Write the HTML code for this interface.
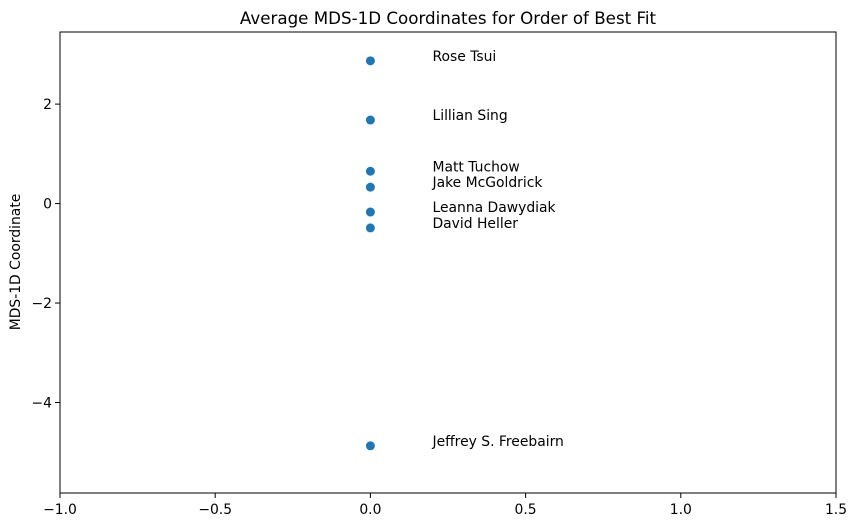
<!DOCTYPE html>
<html><head><meta charset="utf-8"><style>
body{margin:0;background:#fff;}
svg{display:block;font-family:"DejaVu Sans","Liberation Sans",sans-serif;}
</style></head><body>
<svg id="chart" width="855" height="528" viewBox="0 0 855 528">
<rect width="855" height="528" fill="#fff"/>
<text x="448" y="24" font-size="16.7" text-anchor="middle">Average MDS-1D Coordinates for Order of Best Fit</text>
<g id="axes"></g>
<g id="marks"></g>
<rect x="60" y="32" width="776" height="461" fill="none" stroke="#000" stroke-width="1"/>
<text transform="translate(20,262) rotate(-90)" font-size="13.9" text-anchor="middle">MDS-1D Coordinate</text>
</svg>
<script>
const names = ["Rose Tsui","Lillian Sing","Matt Tuchow","Jake McGoldrick","Leanna Dawydiak","David Heller","Jeffrey S. Freebairn"];
const xValues = [0,0,0,0,0,0,0];
const yValues = [2.87,1.68,0.65,0.33,-0.17,-0.49,-4.87];
const xTicks = [-1.0,-0.5,0.0,0.5,1.0,1.5];
const xTickLabels = ["\u22121.0","\u22120.5","0.0","0.5","1.0","1.5"];
const yTicks = [-4,-2,0,2];
const yTickLabels = ["\u22124","\u22122","0","2"];
const L=60,R=836,T=32,B=493,xMin=-1,xMax=1.5,yMin=-5.82,yMax=3.45;
const sx=v=>L+(v-xMin)/(xMax-xMin)*(R-L);
const sy=v=>B-(v-yMin)/(yMax-yMin)*(B-T);
const NS="http://www.w3.org/2000/svg";
const axes=document.getElementById('axes'),marks=document.getElementById('marks');
function mk(tag,attrs,parent){const e=document.createElementNS(NS,tag);for(const k in attrs)e.setAttribute(k,attrs[k]);parent.appendChild(e);return e;}
xTicks.forEach((t,i)=>{
  const x=sx(t);
  const l=mk('line',{x1:x,x2:x,y1:B,y2:B+5,stroke:'#000'},axes);
  
  
  const tx=mk('text',{x:x,y:B+21,'font-size':13.9,'text-anchor':'middle'},axes);
  tx.textContent=xTickLabels[i];
  
  
});
yTicks.forEach((t,i)=>{
  const y=sy(t);
  const l=mk('line',{x1:L-5,x2:L,y1:y,y2:y,stroke:'#000'},axes);
  
  
  const tx=mk('text',{x:L-8,y:y+5,'font-size':13.9,'text-anchor':'end'},axes);
  tx.textContent=yTickLabels[i];
  
  
});
names.forEach((n,i)=>{
  const c=mk('circle',{cx:sx(xValues[i]),cy:sy(yValues[i]),r:4.5,fill:'#1f77b4'},marks);
  
  
  const tx=mk('text',{x:sx(xValues[i]+0.2),y:sy(yValues[i]+0.1)+5,'font-size':13.9},marks);
  tx.textContent=n;
  
  
});
</script>
</body></html>
